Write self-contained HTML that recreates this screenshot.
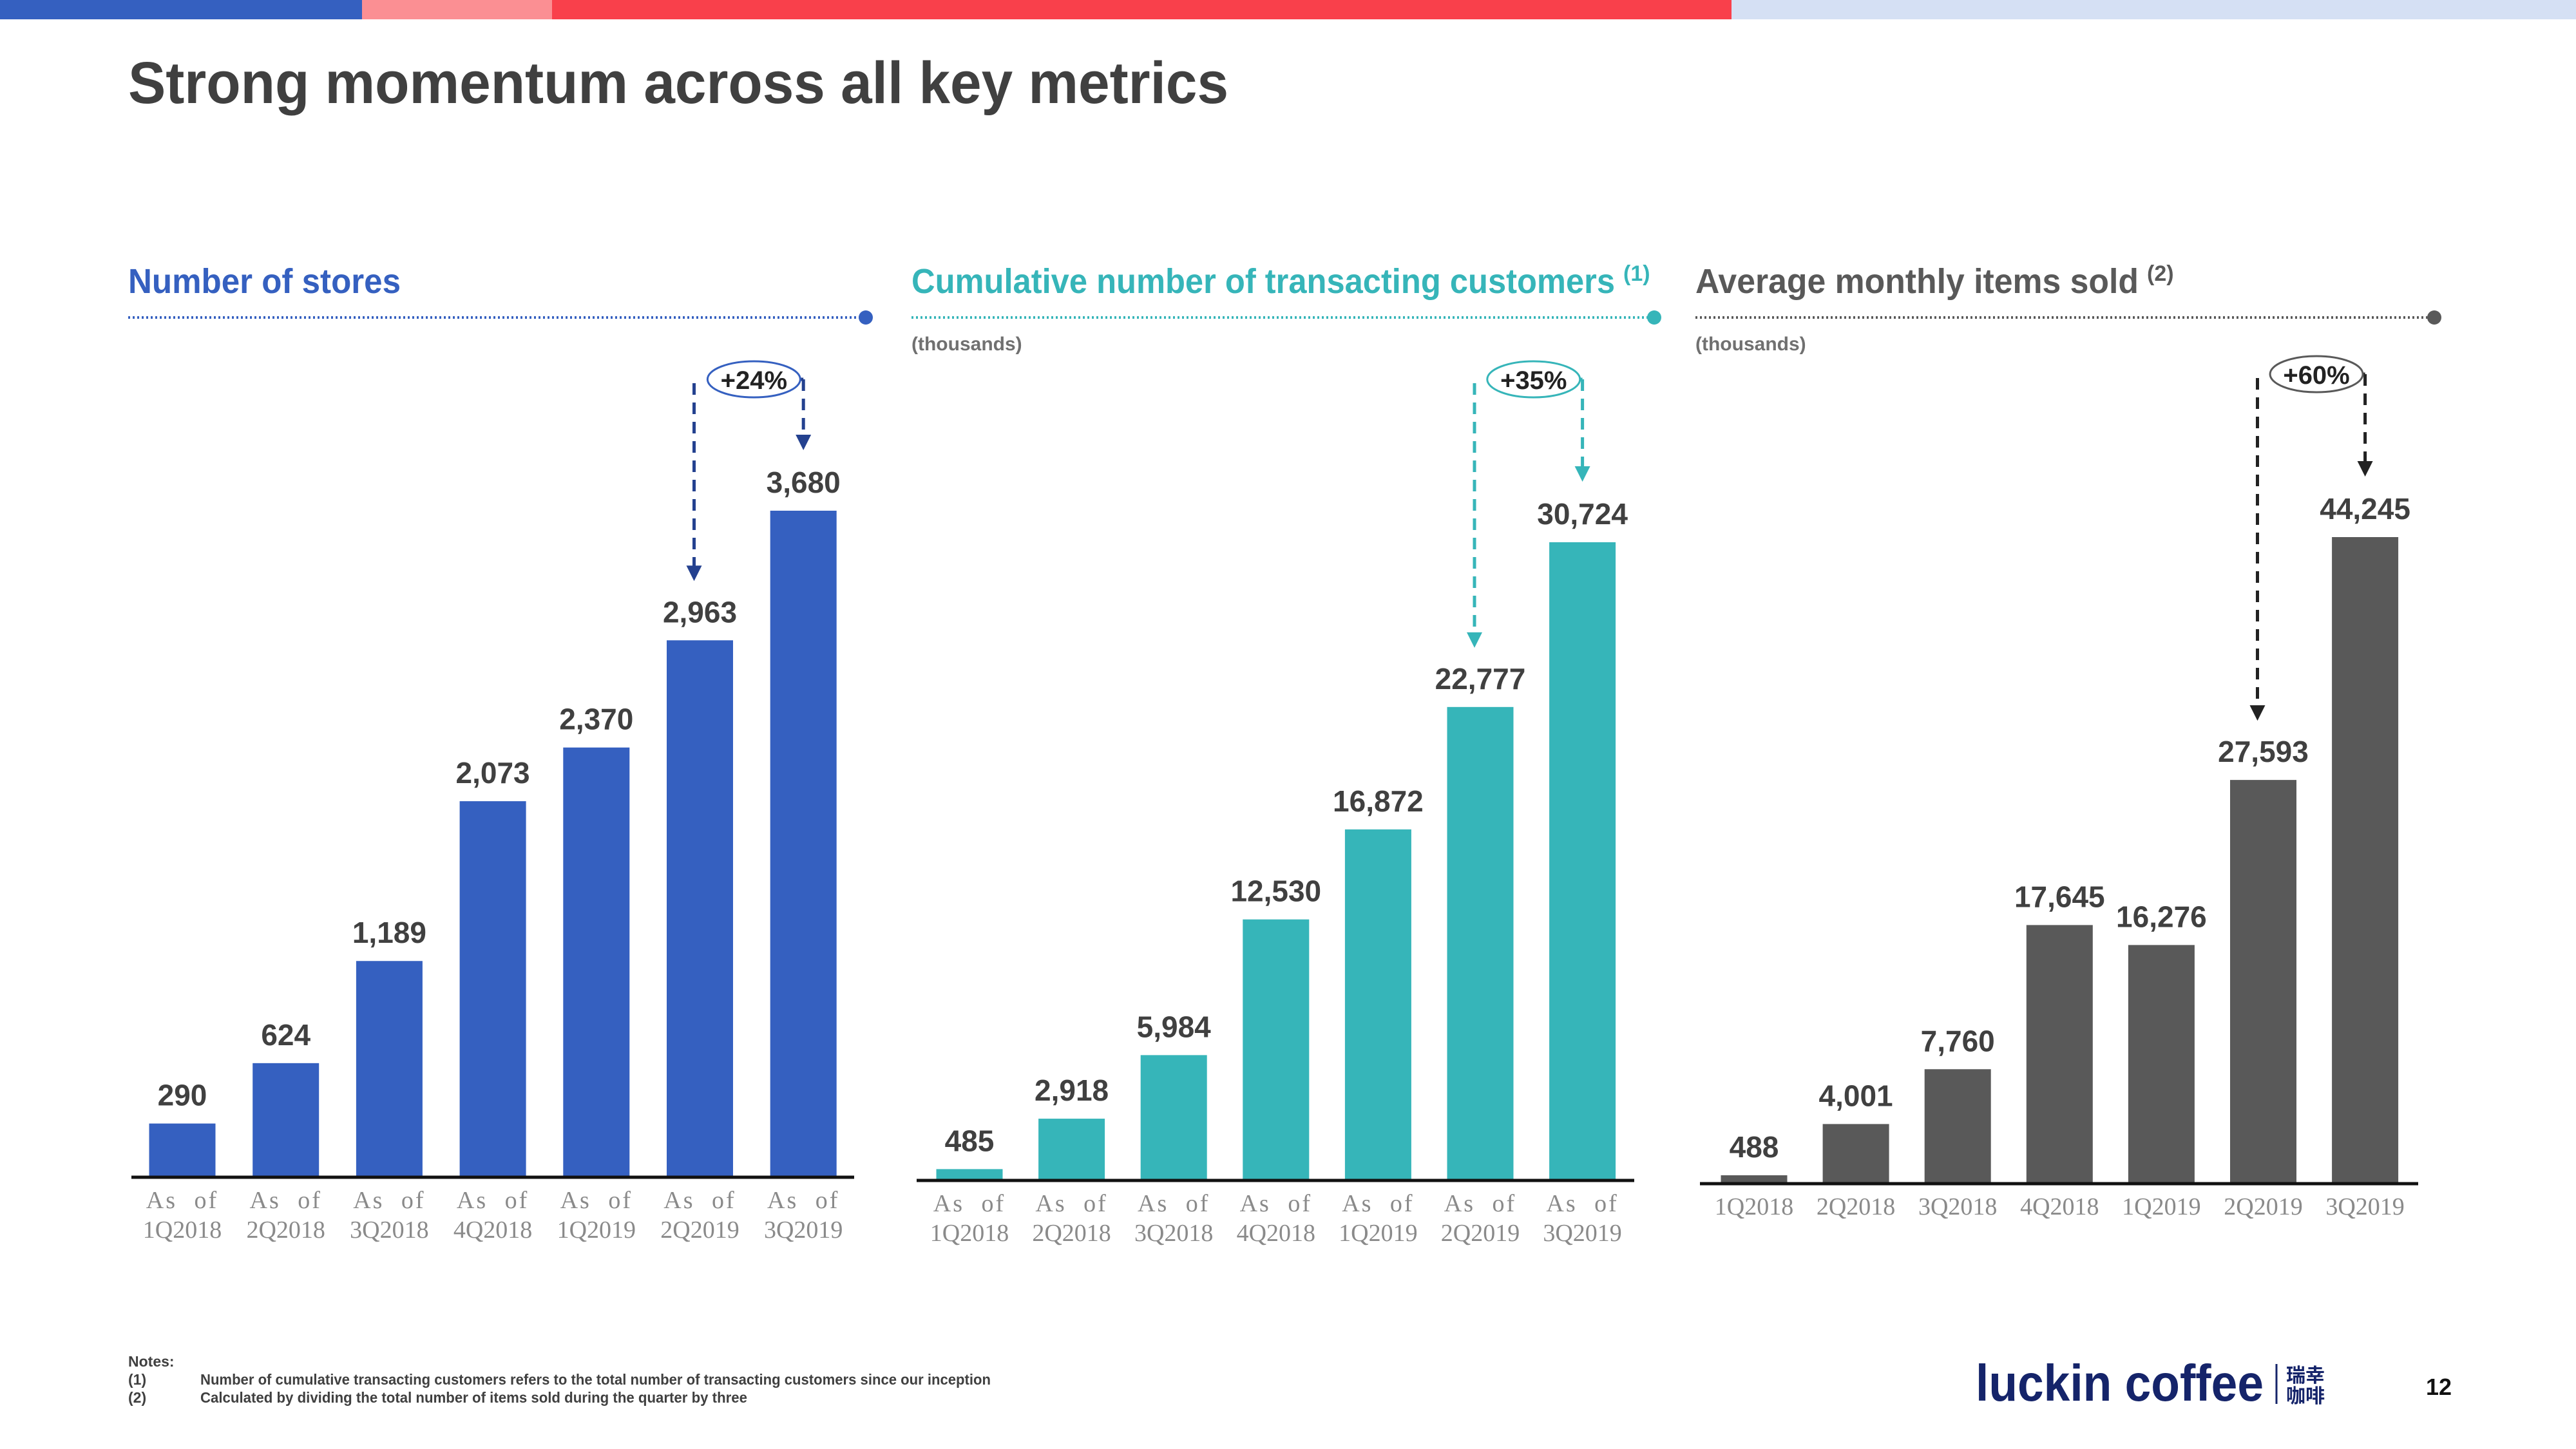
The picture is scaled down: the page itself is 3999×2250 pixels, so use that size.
<!DOCTYPE html>
<html><head><meta charset="utf-8"><style>
html,body{margin:0;padding:0;background:#fff;}
svg{display:block;}
.t{font-family:"Liberation Sans Narrow","Liberation Sans",sans-serif;font-weight:bold;}
.x{font-family:"Liberation Serif",serif;fill:#8a8a8a;font-size:38px;}
</style></head><body>
<svg id="s" width="3999" height="2250" viewBox="0 0 3999 2250" xmlns="http://www.w3.org/2000/svg">
<rect x="0" y="0" width="562" height="30" fill="#3560c0"/>
<rect x="562" y="0" width="295" height="30" fill="#fb8f93"/>
<rect x="857" y="0" width="1831" height="30" fill="#f9404b"/>
<rect x="2688" y="0" width="1311" height="30" fill="#d5e0f4"/>
<text class="t" x="199" y="160" font-size="92" fill="#404040" textLength="1708" lengthAdjust="spacingAndGlyphs">Strong momentum across all key metrics</text>

<text class="t" x="199" y="455" font-size="54" fill="#3560c0" textLength="423" lengthAdjust="spacingAndGlyphs">Number of stores</text>
<text class="t" x="1415" y="455" font-size="54" fill="#36b5b9" textLength="1092" lengthAdjust="spacingAndGlyphs">Cumulative number of transacting customers</text>
<text class="t" x="2520" y="436" font-size="34" fill="#36b5b9">(1)</text>
<text class="t" x="2632" y="455" font-size="54" fill="#595959" textLength="688" lengthAdjust="spacingAndGlyphs">Average monthly items sold</text>
<text class="t" x="3333" y="436" font-size="34" fill="#595959">(2)</text>

<line x1="199" y1="493" x2="1340" y2="493" stroke="#3560c0" stroke-width="4" stroke-dasharray="3 4"/>
<circle cx="1344" cy="493" r="11" fill="#3560c0"/>
<line x1="1415" y1="493" x2="2564" y2="493" stroke="#36b5b9" stroke-width="4" stroke-dasharray="3 4"/>
<circle cx="2568" cy="493" r="11" fill="#36b5b9"/>
<line x1="2632" y1="493" x2="3775" y2="493" stroke="#595959" stroke-width="4" stroke-dasharray="3 4"/>
<circle cx="3779" cy="493" r="11" fill="#595959"/>
<text class="t" x="1415" y="544" font-size="30" fill="#707070">(thousands)</text>
<text class="t" x="2632" y="544" font-size="30" fill="#707070">(thousands)</text>

<text class="t" x="199" y="2122" font-size="23" fill="#404040">Notes:</text>
<text class="t" x="199" y="2150" font-size="23" fill="#404040">(1)</text>
<text class="t" x="311" y="2150" font-size="23" fill="#404040" textLength="1227" lengthAdjust="spacingAndGlyphs">Number of cumulative transacting customers refers to the total number of transacting customers since our inception</text>
<text class="t" x="199" y="2178" font-size="23" fill="#404040">(2)</text>
<text class="t" x="311" y="2178" font-size="23" fill="#404040" textLength="849" lengthAdjust="spacingAndGlyphs">Calculated by dividing the total number of items sold during the quarter by three</text>

<text class="t" x="3067" y="2175" font-size="80" fill="#15246a" textLength="447" lengthAdjust="spacingAndGlyphs">luckin coffee</text>
<line x1="3534" y1="2118" x2="3534" y2="2180" stroke="#15246a" stroke-width="3"/>
<text x="3549" y="2146" font-size="30" fill="#15246a" font-family="'Noto Sans CJK SC',sans-serif" font-weight="bold">瑞幸</text>
<text x="3549" y="2178" font-size="30" fill="#15246a" font-family="'Noto Sans CJK SC',sans-serif" font-weight="bold">咖啡</text>
<text class="t" x="3766" y="2166" font-size="36" fill="#111">12</text>
</svg>
<script>
const quarters = ["1Q2018","2Q2018","3Q2018","4Q2018","1Q2019","2Q2019","3Q2019"];
const storesValues = [290,624,1189,2073,2370,2963,3680];
const customersValues = [485,2918,5984,12530,16872,22777,30724];
const itemsValues = [488,4001,7760,17645,16276,27593,44245];
const growthLabels = ["+24%","+35%","+60%"];

const NS="http://www.w3.org/2000/svg";
const svg=document.getElementById('s');
function mk(tag,attrs){const e=document.createElementNS(NS,tag);for(const k in attrs)e.setAttribute(k,attrs[k]);svg.appendChild(e);return e;}

const charts=[
 {key:'stores',vals:storesValues,x0:283,step:160.7,base:1826,maxV:3680,maxH:1033,color:'#3560c0',line:'#24418f',axis:[204,1326],asOf:true,g:growthLabels[0],cy:589},
 {key:'customers',vals:customersValues,x0:1505,step:158.6,base:1831,maxV:30724,maxH:989,color:'#36b5b9',line:'#36b5b9',axis:[1423,2537],asOf:true,g:growthLabels[1],cy:589},
 {key:'items',vals:itemsValues,x0:2723,step:158.1,base:1836,maxV:44245,maxH:1002,color:'#595959',line:'#222',axis:[2639,3754],asOf:false,g:growthLabels[2],cy:581}
];
charts.forEach(c=>{
  const xs=i=>c.x0+i*c.step;
  const ys=v=>c.base-v/c.maxV*c.maxH;
  const bw=103;
  c.vals.forEach((v,i)=>{
    const r=mk('rect',{x:xs(i)-bw/2,y:ys(v),width:bw,height:c.base-ys(v),fill:c.color});
    
    
    const t=mk('text',{x:xs(i),y:ys(v)-28,'text-anchor':'middle','font-size':46,fill:'#404040',class:'t'});
    t.textContent=v.toLocaleString('en-US');
    
    
    if(c.asOf){
      const a=mk('text',{x:xs(i),y:c.base+50,'text-anchor':'middle',class:'x','letter-spacing':'3','word-spacing':'14'});
      a.textContent='As of';
      
      
      const q=mk('text',{x:xs(i),y:c.base+96,'text-anchor':'middle',class:'x'});
      q.textContent=quarters[i];
      
      
    } else {
      const q=mk('text',{x:xs(i),y:c.base+50,'text-anchor':'middle',class:'x'});
      q.textContent=quarters[i];
      
      
    }
  });
  const ax=mk('line',{x1:c.axis[0],y1:c.base+2,x2:c.axis[1],y2:c.base+2,stroke:'#111','stroke-width':5});
  
  
  const n=c.vals.length;
  const lx=xs(n-2)-9, rx=xs(n-1);
  const cy=c.cy;
  const ecx=(lx+rx)/2+8;
  const l1=mk('line',{x1:lx,y1:cy+6,x2:lx,y2:ys(c.vals[n-2])-112,stroke:c.line,'stroke-width':5,'stroke-dasharray':'18 12'});
  
  
  const a1=mk('polygon',{points:`${lx-12},${ys(c.vals[n-2])-116} ${lx+12},${ys(c.vals[n-2])-116} ${lx},${ys(c.vals[n-2])-92}`,fill:c.line});
  
  
  const h=mk('line',{x1:ecx+72,y1:cy,x2:rx,y2:cy,stroke:c.line,'stroke-width':5});
  
  
  const l2=mk('line',{x1:rx,y1:cy,x2:rx,y2:ys(c.vals[n-1])-117,stroke:c.line,'stroke-width':5,'stroke-dasharray':'18 12'});
  
  
  const a2=mk('polygon',{points:`${rx-12},${ys(c.vals[n-1])-118} ${rx+12},${ys(c.vals[n-1])-118} ${rx},${ys(c.vals[n-1])-94}`,fill:c.line});
  
  
  const el=mk('ellipse',{cx:ecx,cy:cy,rx:72,ry:28,fill:'#fff',stroke:c.color,'stroke-width':3});
  
  
  const gt=mk('text',{x:ecx,y:cy+15,'text-anchor':'middle','font-size':40,fill:'#222',class:'t'});
  gt.textContent=c.g;
  
  
});
</script>
</body></html>
